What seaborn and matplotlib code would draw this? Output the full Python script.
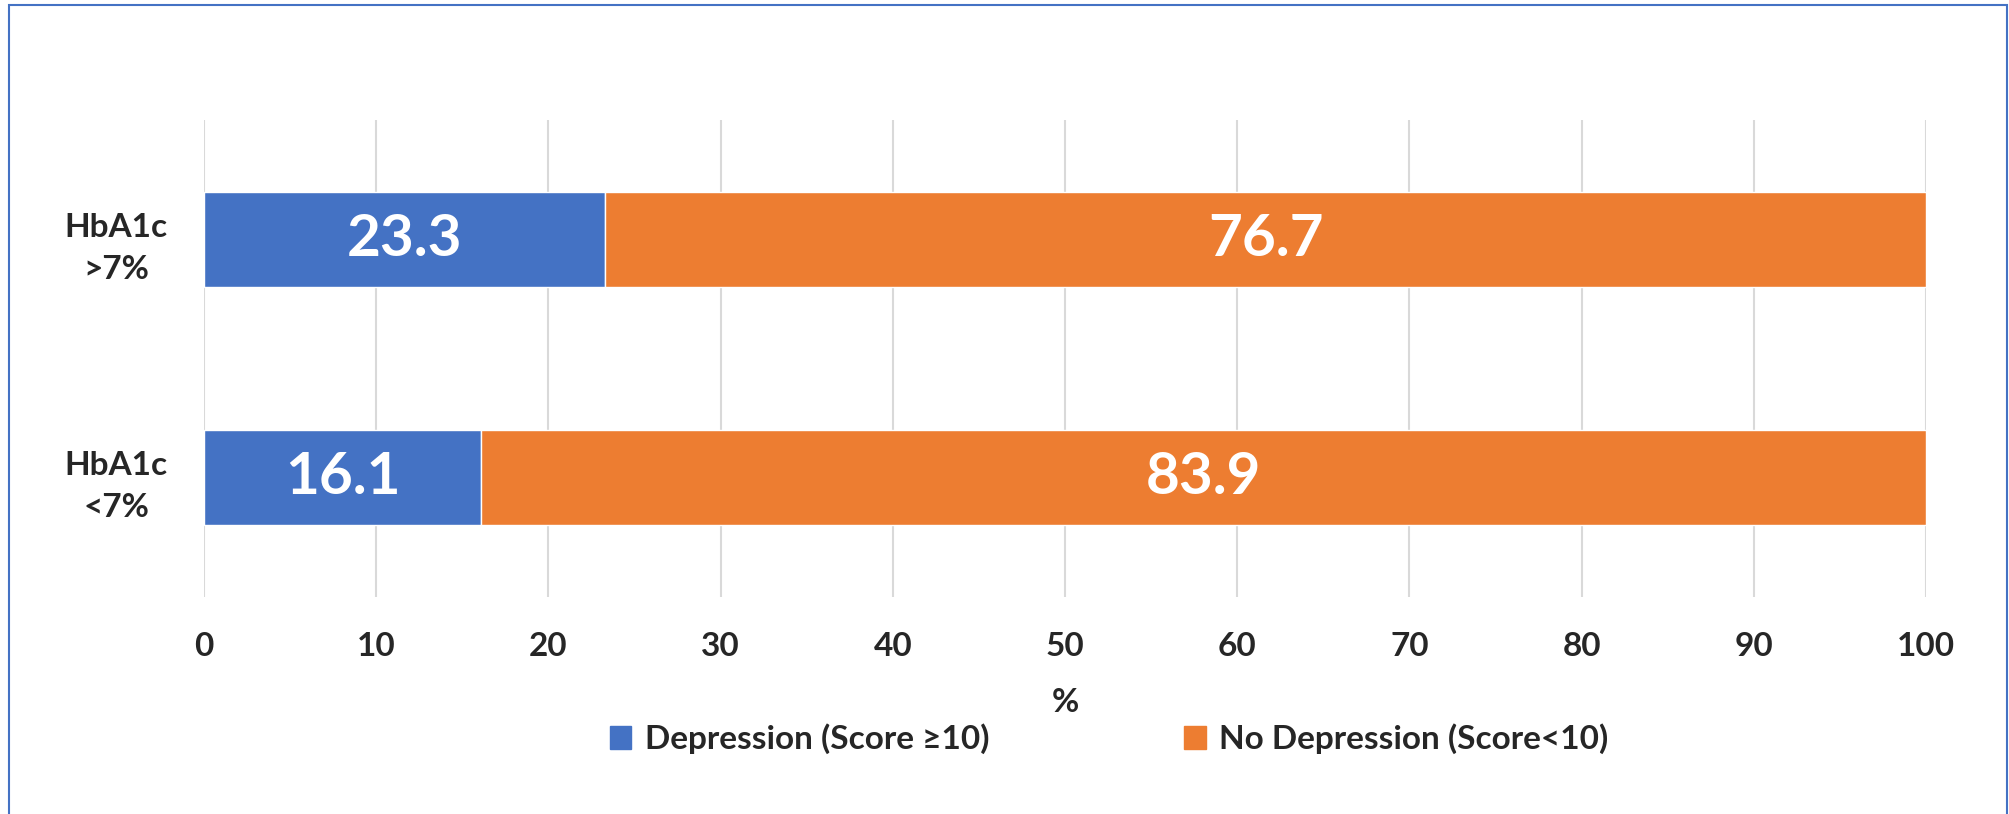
import matplotlib; matplotlib.use("Agg")
import matplotlib.pyplot as plt
import matplotlib.patches as mpatches
import pandas as pd
import seaborn as sns

# data
groups = ["HbA1c\n>7%", "HbA1c\n<7%"]
depression = [23.3, 16.1]
no_depression = [76.7, 83.9]
series_names = ["Depression (Score \u226510)", "No Depression (Score<10)"]
x_ticks = [0, 10, 20, 30, 40, 50, 60, 70, 80, 90, 100]

BLUE = "#4472C4"
ORANGE = "#ED7D31"

sns.set_theme(style="white")
plt.rcParams["font.family"] = ["Lato", "DejaVu Sans"]
plt.rcParams["font.weight"] = "bold"

df = pd.DataFrame({"group": groups, "dep": depression, "nodep": no_depression})

fig = plt.figure(figsize=(20.09, 8.14), dpi=100)
ax = fig.add_axes([204 / 2009, 1 - 597 / 814, (1926 - 204) / 2009, (597 - 120) / 814])

sns.barplot(data=df, x="dep", y="group", orient="h", color=BLUE, width=0.4,
            saturation=1, ax=ax, zorder=3)
ax.barh(df["group"], df["nodep"], left=df["dep"], height=0.4, color=ORANGE, zorder=3)

# value labels
for i, row in df.iterrows():
    ax.text(row["dep"] / 2, i, f"{row['dep']:.1f}", ha="center", va="center",
            color="white", fontsize=42, fontweight="bold", zorder=4)
    ax.text(row["dep"] + row["nodep"] / 2, i, f"{row['nodep']:.1f}", ha="center",
            va="center", color="white", fontsize=42, fontweight="bold", zorder=4)

ax.set_xlim(0, 100)
ax.set_ylim(1.5, -0.5)
ax.set_xticks(x_ticks)
ax.set_xticklabels([str(t) for t in x_ticks], fontsize=24, fontweight="bold")
ax.set_yticks(range(len(groups)))
ax.set_yticklabels(groups, fontsize=24, fontweight="bold", multialignment="center",
                   linespacing=1.55)
ax.tick_params(axis="x", length=0, pad=25)
ax.tick_params(axis="y", length=0, pad=26)
ax.xaxis.grid(True, color="#D9D9D9", linewidth=1.5, zorder=0)
ax.yaxis.grid(False)
for s in ax.spines.values():
    s.set_visible(False)
ax.set_xlabel("%", fontsize=24, fontweight="bold", labelpad=20)
ax.set_ylabel("")

handles = [mpatches.Patch(color=BLUE, label=series_names[0]),
           mpatches.Patch(color=ORANGE, label=series_names[1])]
fig.legend(handles=handles, loc="center", bbox_to_anchor=(1109 / 2009, 1 - 739 / 814),
           ncol=2, frameon=False, fontsize=24, handlelength=0.65, handleheight=0.65,
           handletextpad=0.4, columnspacing=5.85)

# chart border
border = mpatches.Rectangle((9 / 2009, -0.02), (2007 - 9) / 2009, 1 - 5 / 814 + 0.02,
                            transform=fig.transFigure, fill=False,
                            edgecolor="#4472C4", linewidth=1.5, clip_on=False)
fig.patches.append(border)

fig.savefig("out.png", dpi=100)
plt.close(fig)
